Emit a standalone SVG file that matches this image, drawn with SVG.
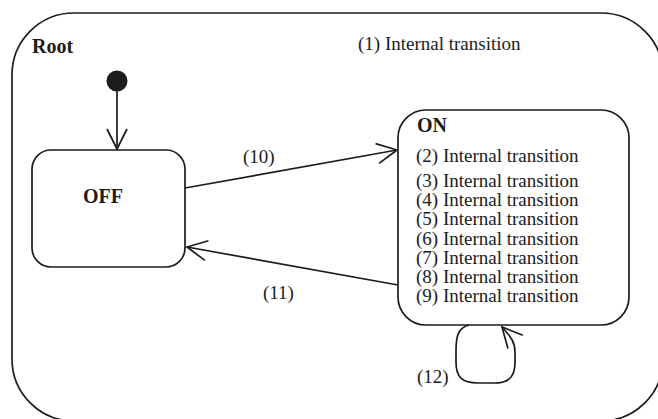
<svg xmlns="http://www.w3.org/2000/svg" width="658" height="419" viewBox="0 0 658 419">
  <style>
    .box { fill: none; stroke: #1c1c1c; stroke-width: 1.7; }
    .edge { fill: none; stroke: #1c1c1c; stroke-width: 1.7; }
    .title { font-family: "Liberation Serif", "Times New Roman", serif; font-weight: bold; font-size: 20px; fill: #1c1c1c; }
    .txt { font-family: "Liberation Serif", "Times New Roman", serif; font-size: 19px; fill: #1c1c1c; }
  </style>
  <defs>
    <marker id="open" viewBox="-23 -12 25 24" refX="0" refY="0" markerWidth="25" markerHeight="24" markerUnits="userSpaceOnUse" orient="auto">
      <path d="M-20,-10 L0,0 L-20,10" fill="none" stroke="#1c1c1c" stroke-width="1.7"/>
    </marker>
  </defs>
  <rect width="658" height="419" fill="#ffffff"/>

  <g id="root">
    <rect class="box" x="12" y="13" width="651" height="408" rx="62" ry="62"/>
    <text class="title" x="32" y="53">Root</text>
    <text class="txt" x="358" y="50">(1) Internal transition</text>
  </g>

  <g id="initial">
    <circle cx="117" cy="81" r="10.5" fill="#1c1c1c"/>
  </g>

  <g id="off">
    <rect class="box" x="32" y="150" width="153" height="117" rx="19" ry="19"/>
    <text class="title" x="83" y="203">OFF</text>
  </g>

  <g id="on">
    <rect class="box" x="398" y="110" width="231" height="215" rx="28" ry="28"/>
    <text class="title" x="417" y="132">ON</text>
    <text class="txt" x="416" y="162">(2) Internal transition</text>
    <text class="txt" x="416" y="187">(3) Internal transition</text>
    <text class="txt" x="416" y="206">(4) Internal transition</text>
    <text class="txt" x="416" y="225">(5) Internal transition</text>
    <text class="txt" x="416" y="245">(6) Internal transition</text>
    <text class="txt" x="416" y="264">(7) Internal transition</text>
    <text class="txt" x="416" y="283">(8) Internal transition</text>
    <text class="txt" x="416" y="302">(9) Internal transition</text>
  </g>

  <g id="connectors">
    <!-- initial pseudostate to OFF -->
    <line class="edge" x1="117" y1="91" x2="117" y2="149" marker-end="url(#open)"/>
    <!-- (10) OFF to ON -->
    <line class="edge" x1="185" y1="188" x2="397" y2="150" marker-end="url(#open)"/>
    <text class="txt" x="243" y="163">(10)</text>
    <!-- (11) ON to OFF -->
    <line class="edge" x1="398" y1="285" x2="187" y2="247" marker-end="url(#open)"/>
    <text class="txt" x="263" y="299">(11)</text>
    <!-- (12) self transition on ON -->
    <path class="edge" d="M469,325 C457,328 456,338 456,352 L456,362 C456,377 462,383 478,383 L494,383 C510,383 515,376 515,362 L515,352 C515,342 511,337 502,327" marker-end="url(#open)"/>
    <text class="txt" x="417" y="383">(12)</text>
  </g>
</svg>
